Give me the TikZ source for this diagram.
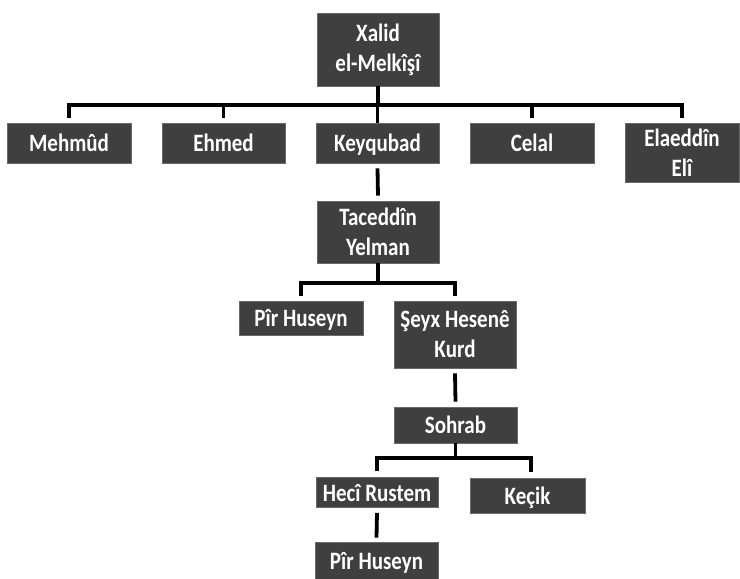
\documentclass[tikz,border=0pt]{standalone}
\usepackage{fontspec}
\setmainfont{Carlito}[FakeStretch=0.84]
\definecolor{boxfill}{HTML}{3F3F3F}
\definecolor{boxedge}{HTML}{6A6A6A}
\begin{document}
\begin{tikzpicture}[x=1pt,y=-1pt,
  person/.style={rectangle, fill=boxfill, draw=boxedge, line width=0.6pt,
    text=white, font=\fontsize{25}{30}\selectfont\bfseries, align=center,
    inner sep=0pt, anchor=center},
  single/.style={text height=19pt, text depth=2pt},
  conn/.style={line width=3.8pt, draw=black, line join=miter}]
\useasboundingbox (0,0) rectangle (740,579);
% boxes
\node[person, minimum width=122pt, minimum height=73pt] (xalid) at (378,49.5)
  {\fontsize{25}{39}\selectfont Xalid\\el-Melkîşî};
\node[person, single, minimum width=124pt, minimum height=40pt] (mehmud) at (69,143) {Mehmûd};
\node[person, single, minimum width=123pt, minimum height=40pt] (ehmed) at (223.5,143) {Ehmed};
\node[person, single, minimum width=123pt, minimum height=40pt] (keyqubad) at (377.5,143) {Keyqubad};
\node[person, single, minimum width=124pt, minimum height=40pt] (celal) at (532,143) {Celal};
\node[person, minimum width=114pt, minimum height=59pt] (elaeddin) at (682,152.5)
  {\fontsize{25}{29}\selectfont Elaeddîn\\Elî};
\node[person, minimum width=122pt, minimum height=62pt] (taceddin) at (378,232)
  {Taceddîn\\Yelman};
\node[person, single, minimum width=124pt, minimum height=34pt] (pir1) at (301,318) {Pîr Huseyn};
\node[person, minimum width=122pt, minimum height=67pt] (seyx) at (455,334.5)
  {\fontsize{25}{35}\selectfont Şeyx Hesenê\\Kurd};
\node[person, single, minimum width=123pt, minimum height=36pt] (sohrab) at (455.5,425) {Sohrab};
\node[person, single, minimum width=122pt, minimum height=30pt] (heci) at (377,492.5) {Hecî Rustem};
\node[person, single, minimum width=115pt, minimum height=35pt] (kecik) at (527.5,495.5) {Keçik};
\node[person, single, minimum width=123pt, minimum height=37pt] (pir2) at (376.5,560.5) {Pîr Huseyn};
% bus coordinates
\coordinate (b1) at (0,105);
\coordinate (b2) at (0,283);
\coordinate (b3) at (0,458);
% connectors
\draw[conn] (xalid.south) -- (xalid.south |- b1);
\draw[conn] ([yshift=5pt]mehmud.north) -- (mehmud.north |- b1) -| ([yshift=5pt]elaeddin.north);
\draw[conn] ([yshift=5pt]ehmed.north) -- (ehmed.north |- b1);
\draw[conn] ([yshift=5pt]celal.north) -- (celal.north |- b1);
\draw[conn] (keyqubad.north) -- (keyqubad.north |- b1);
\draw[conn] ([yshift=-5pt]keyqubad.south) -- ([yshift=5pt]taceddin.north);
\draw[conn] (taceddin.south) -- (taceddin.south |- b2);
\draw[conn] ([yshift=5pt]pir1.north) -- (pir1.north |- b2) -| ([yshift=5pt]seyx.north);
\draw[conn] ([yshift=-5pt]seyx.south) -- ([yshift=5pt]sohrab.north);
\draw[conn] (sohrab.south) -- (sohrab.south |- b3);
\draw[conn] ([yshift=6pt]heci.north) -- (heci.north |- b3) -| ([yshift=6pt, xshift=3.5pt]kecik.north);
\draw[conn] ([yshift=-5pt]heci.south) -- ([yshift=4pt]pir2.north);
\end{tikzpicture}
\end{document}
